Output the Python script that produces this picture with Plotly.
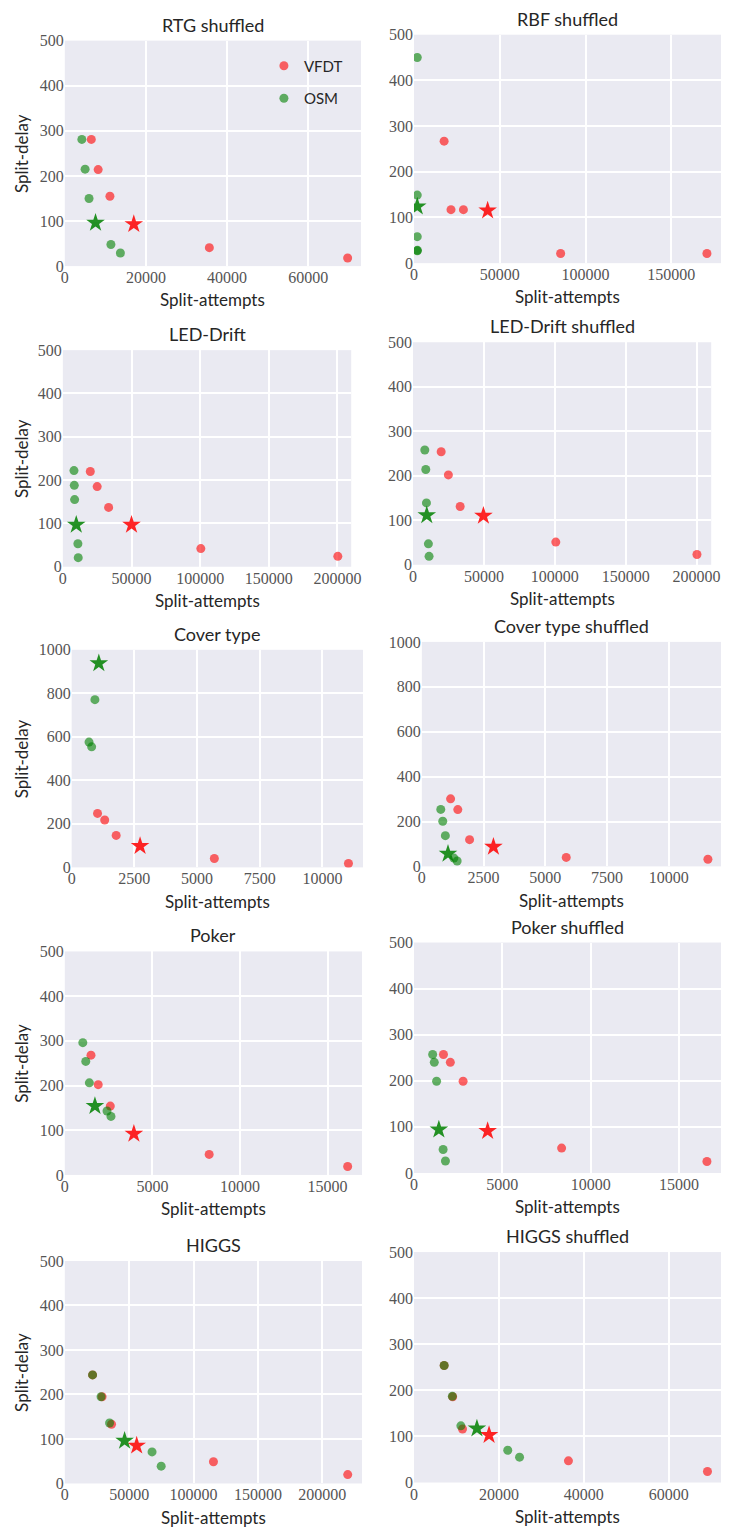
import plotly.graph_objects as go

W, H = 731, 1537

titles = ["RTG shuffled", "RBF shuffled", "LED-Drift", "LED-Drift shuffled",
          "Cover type", "Cover type shuffled", "Poker", "Poker shuffled",
          "HIGGS", "HIGGS shuffled"]

# ---- data (split-attempts, split-delay) ----
rtg_vfdt_x = [6530, 8220, 11120, 35620, 69700]
rtg_vfdt_y = [281, 214, 155, 41, 18]
rtg_osm_x = [4200, 5000, 5970, 11360, 13700]
rtg_osm_y = [281, 215, 150, 48, 29]
rtg_vfdt_star = [17000, 93]
rtg_osm_star = [7570, 96]

rbf_vfdt_x = [17560, 21570, 28820, 85500, 170800]
rbf_vfdt_y = [267, 117, 117, 21, 21]
rbf_osm_x = [1900, 1900, 1900, 2000, 1900]
rbf_osm_y = [450, 149, 58, 28, 27]
rbf_vfdt_star = [42940, 115]
rbf_osm_star = [1900, 124]

led_vfdt_x = [20000, 25000, 33330, 100480, 200240]
led_vfdt_y = [220, 185, 137, 42, 24]
led_osm_x = [8100, 8330, 8570, 10950, 11190]
led_osm_y = [222, 188, 155, 53, 21]
led_vfdt_star = [50000, 97]
led_osm_star = [9760, 97]

leds_vfdt_x = [19860, 24940, 33260, 100700, 200250]
leds_vfdt_y = [254, 202, 131, 51, 23]
leds_osm_x = [8310, 9000, 9470, 10850, 11320]
leds_osm_y = [258, 214, 139, 47, 19]
leds_vfdt_star = [49650, 110]
leds_osm_star = [9700, 111]

cov_vfdt_x = [1031, 1318, 1775, 5690, 11040]
cov_vfdt_y = [248, 218, 147, 41, 18]
cov_osm_x = [927, 692, 796]
cov_osm_y = [771, 576, 554]
cov_vfdt_star = [2728, 98]
cov_osm_star = [1083, 938]

covs_vfdt_x = [1165, 1457, 1934, 5850, 11590]
covs_vfdt_y = [301, 253, 119, 40, 32]
covs_osm_x = [767, 847, 953, 1298, 1430]
covs_osm_y = [254, 201, 137, 37, 24]
covs_vfdt_star = [2900, 87]
covs_osm_star = [1060, 56]

pok_vfdt_x = [1495, 1907, 2598, 8243, 16150]
pok_vfdt_y = [268, 202, 154, 46, 19]
pok_osm_x = [1028, 1196, 1402, 2411, 2636]
pok_osm_y = [296, 254, 206, 143, 131]
pok_vfdt_star = [3944, 92]
pok_osm_star = [1720, 154]

poks_vfdt_x = [1667, 2056, 2778, 8352, 16574]
poks_vfdt_y = [257, 240, 199, 54, 25]
poks_osm_x = [1056, 1148, 1278, 1648, 1778]
poks_osm_y = [257, 240, 199, 51, 26]
poks_vfdt_star = [4167, 91]
poks_osm_star = [1407, 94]

hig_vfdt_x = [21570, 28930, 36290, 115480, 219800]
hig_vfdt_y = [244, 195, 133, 49, 20]
hig_osm_x = [21570, 28170, 34770, 67770, 74870]
hig_osm_y = [244, 195, 136, 71, 39]
hig_vfdt_star = [55840, 85]
hig_osm_star = [46450, 96]

higs_vfdt_x = [7100, 9110, 11430, 36370, 69110]
higs_vfdt_y = [254, 186, 116, 47, 24]
higs_osm_x = [7100, 9030, 11040, 22080, 24860]
higs_osm_y = [254, 187, 123, 70, 55]
higs_vfdt_star = [17680, 103]
higs_osm_star = [14820, 117]

panels = [
    (rtg_vfdt_x, rtg_vfdt_y, rtg_osm_x, rtg_osm_y, rtg_vfdt_star, rtg_osm_star),
    (rbf_vfdt_x, rbf_vfdt_y, rbf_osm_x, rbf_osm_y, rbf_vfdt_star, rbf_osm_star),
    (led_vfdt_x, led_vfdt_y, led_osm_x, led_osm_y, led_vfdt_star, led_osm_star),
    (leds_vfdt_x, leds_vfdt_y, leds_osm_x, leds_osm_y, leds_vfdt_star, leds_osm_star),
    (cov_vfdt_x, cov_vfdt_y, cov_osm_x, cov_osm_y, cov_vfdt_star, cov_osm_star),
    (covs_vfdt_x, covs_vfdt_y, covs_osm_x, covs_osm_y, covs_vfdt_star, covs_osm_star),
    (pok_vfdt_x, pok_vfdt_y, pok_osm_x, pok_osm_y, pok_vfdt_star, pok_osm_star),
    (poks_vfdt_x, poks_vfdt_y, poks_osm_x, poks_osm_y, poks_vfdt_star, poks_osm_star),
    (hig_vfdt_x, hig_vfdt_y, hig_osm_x, hig_osm_y, hig_vfdt_star, hig_osm_star),
    (higs_vfdt_x, higs_vfdt_y, higs_osm_x, higs_osm_y, higs_vfdt_star, higs_osm_star),
]

# ---- layout: pixel boxes (left, right, top, bottom), axis ranges and ticks ----
boxes = [(62, 364, 33, 261), (418, 731, 27, 258),
         (60, 354, 346, 565), (417, 721, 338, 563),
         (69, 366, 649, 869), (426, 731, 641, 868),
         (62, 365, 954, 1180), (418, 731, 945, 1178),
         (62, 365, 1267, 1492), (418, 731, 1258, 1491)]
xmax = [73000, 179000, 210000, 210300, 11620, 12120, 16970, 17370, 230900, 72300]
xdtick = [20000, 50000, 50000, 50000, 2500, 2500, 5000, 5000, 50000, 20000]
ymax = [500, 500, 500, 500, 1000, 1000, 500, 500, 500, 500]
ydtick = [100, 100, 100, 100, 200, 200, 100, 100, 100, 100]

RED = "rgba(255,0,0,0.6)"
GREEN = "rgba(0,128,0,0.6)"
RED_STAR = "rgba(255,0,0,0.85)"
GREEN_STAR = "rgba(0,128,0,0.85)"
SANS = "Lato"
SERIF = "Liberation Serif"

fig = go.Figure()
layout = {}
annotations = []
for i, (vx, vy, ox, oy, vs, os_) in enumerate(panels):
    k = "" if i == 0 else str(i + 1)
    xa, ya = "x" + k, "y" + k
    fig.add_trace(go.Scatter(x=vx, y=vy, mode="markers", xaxis=xa, yaxis=ya,
                             name="VFDT", legendgroup="VFDT", showlegend=(i == 0),
                             marker=dict(color=RED, size=9, line=dict(width=0))))
    fig.add_trace(go.Scatter(x=ox, y=oy, mode="markers", xaxis=xa, yaxis=ya,
                             name="OSM", legendgroup="OSM", showlegend=(i == 0),
                             marker=dict(color=GREEN, size=9, line=dict(width=0))))
    fig.add_trace(go.Scatter(x=[vs[0]], y=[vs[1]], mode="markers", xaxis=xa, yaxis=ya,
                             showlegend=False,
                             marker=dict(symbol="star", color=RED_STAR, size=14, line=dict(width=0))))
    fig.add_trace(go.Scatter(x=[os_[0]], y=[os_[1]], mode="markers", xaxis=xa, yaxis=ya,
                             showlegend=False,
                             marker=dict(symbol="star", color=GREEN_STAR, size=14, line=dict(width=0))))

    l, r, t, b = boxes[i]
    axis_style = dict(showgrid=True, gridcolor="white", gridwidth=1.5, zeroline=False,
                      showline=False, ticks="", tick0=0, tickformat="d",
                      tickfont=dict(family=SERIF, size=16, color="#555555"))
    layout["xaxis" + k] = dict(domain=[l / W, r / W], anchor=ya, range=[0, xmax[i]],
                               dtick=xdtick[i], **axis_style)
    layout["yaxis" + k] = dict(domain=[1 - b / H, 1 - t / H], anchor=xa, range=[0, ymax[i]],
                               dtick=ydtick[i], **axis_style)

    cx = (l + r) / 2 / W
    annotations.append(dict(text=titles[i], x=cx, y=1 - (t - 3) / H, xref="paper", yref="paper",
                            xanchor="center", yanchor="bottom", showarrow=False,
                            font=dict(family=SANS, size=18, color="#262626")))
    annotations.append(dict(text="Split-attempts", x=cx, y=1 - (b + 34) / H, xref="paper", yref="paper",
                            xanchor="center", yanchor="middle", showarrow=False,
                            font=dict(family=SANS, size=17, color="#262626")))
    if i % 2 == 0:
        annotations.append(dict(text="Split-delay", x=18 / W, y=1 - (t + b) / 2 / H,
                                xref="paper", yref="paper", xanchor="center", yanchor="middle",
                                textangle=-90, showarrow=False,
                                font=dict(family=SANS, size=17, color="#262626")))

fig.update_layout(
    width=W, height=H, margin=dict(l=0, r=0, t=0, b=0),
    paper_bgcolor="white", plot_bgcolor="#EAEAF2",
    font=dict(family=SERIF),
    annotations=annotations,
    legend=dict(x=265 / W, y=1 - 42 / H, xanchor="left", yanchor="top",
                bgcolor="rgba(0,0,0,0)", font=dict(family=SANS, size=15, color="#262626")),
    **layout,
)

fig.write_html("out.html")
